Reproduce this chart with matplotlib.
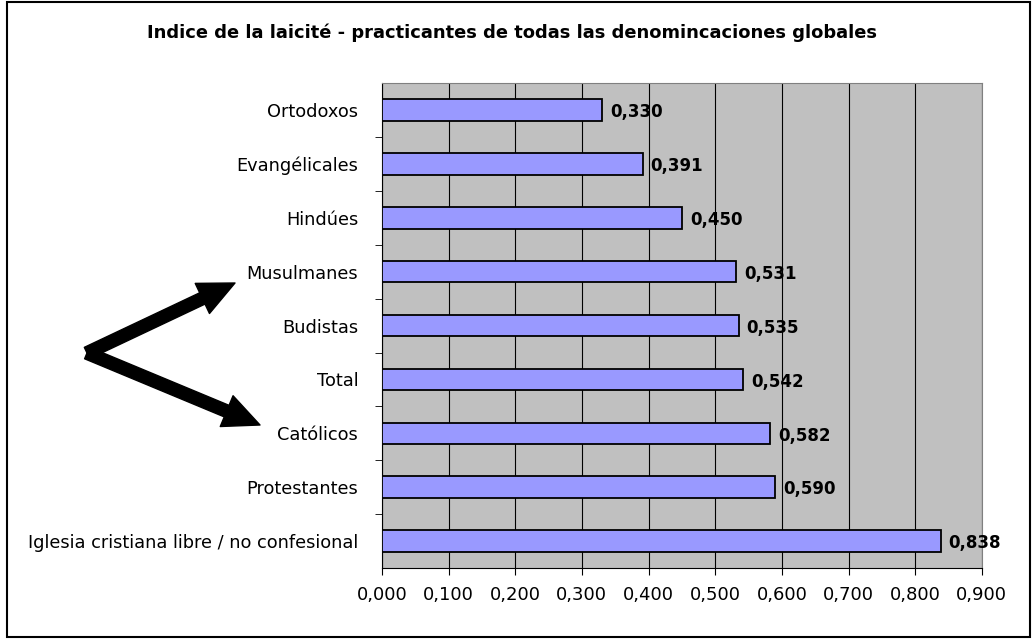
import matplotlib.pyplot as plt
from matplotlib.patches import Rectangle, FancyArrowPatch

plt.rcParams['font.family'] = ['DejaVu Sans']

# laicity index per denomination (top to bottom as listed)
categories = ["Ortodoxos", "Evangélicales", "Hindúes", "Musulmanes", "Budistas",
              "Total", "Católicos", "Protestantes",
              "Iglesia cristiana libre / no confesional"]
values = [0.330, 0.391, 0.450, 0.531, 0.535, 0.542, 0.582, 0.590, 0.838]
xticks = [0.0, 0.1, 0.2, 0.3, 0.4, 0.5, 0.6, 0.7, 0.8, 0.9]

W, H = 1032, 639
fig = plt.figure(figsize=(W / 100, H / 100), dpi=100)
ax = fig.add_axes([0.370, 0.111, 0.5814, 0.759])

ypos = list(range(len(categories)))[::-1]
ax.barh(ypos, values, height=0.4, color="#9999FF", edgecolor="black", linewidth=1.3, zorder=3)

for y, v in zip(ypos, values):
    ax.text(v + 0.012, y - 0.04, f"{v:.3f}".replace(".", ","), va="center", ha="left",
            fontsize=12, fontweight="bold", zorder=4)

ax.set_facecolor("#C0C0C0")
ax.set_xlim(0, 0.9)
ax.set_ylim(-0.5, len(categories) - 0.5)
ax.set_xticks(xticks)
ax.set_xticklabels([f"{t:.3f}".replace(".", ",") for t in xticks], fontsize=13)
ax.xaxis.grid(True, color="black", linewidth=0.8, zorder=1)

# category labels at bar centres, tick marks between categories
ax.set_yticks(ypos)
ax.set_yticklabels(categories, fontsize=12.8)
ax.tick_params(axis="y", length=0, pad=17)
ax.set_yticks([i + 0.5 for i in range(len(categories) - 1)], minor=True)
ax.tick_params(axis="y", which="minor", length=5, color="black")
ax.tick_params(axis="x", length=5, pad=8)

for side in ["top", "right"]:
    ax.spines[side].set_color("#808080")
for side in ["left", "bottom"]:
    ax.spines[side].set_color("black")

fig.text(0.496, 0.949, "Indice de la laicité - practicantes de todas las denomincaciones globales",
         ha="center", va="center", fontsize=12.9, fontweight="bold")

# outer frame
fig.patches.append(Rectangle((7 / W, 2 / H), 1023 / W, 635 / H, transform=fig.transFigure,
                             fill=False, edgecolor="black", linewidth=1.5))

# arrows pointing at Musulmanes and Católicos
tail = (87 / W, 1 - 353 / H)
for tip in [(235 / W, 1 - 283 / H), (260 / W, 1 - 425 / H)]:
    fig.patches.append(FancyArrowPatch(tail, tip, transform=fig.transFigure,
                                       arrowstyle="simple,head_length=26,head_width=24,tail_width=9",
                                       mutation_scale=1, color="black", shrinkA=0, shrinkB=0))

fig.savefig("out.png", dpi=100)
